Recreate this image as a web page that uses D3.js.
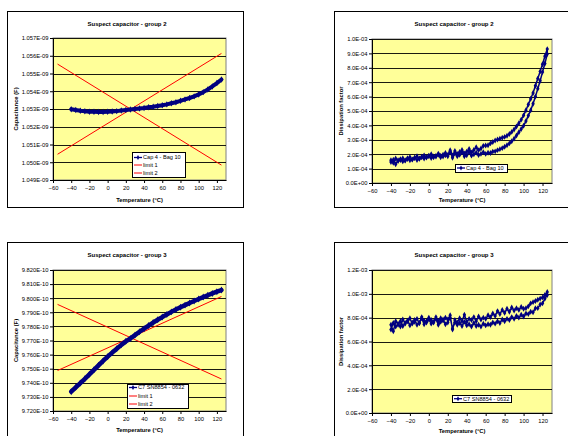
<!DOCTYPE html>
<html>
<head>
<meta charset="utf-8">
<script src="https://cdn.jsdelivr.net/npm/d3@7"></script>
<style>
  body { margin: 0; background: #fff; }
  svg { display: block; font-family: "Liberation Sans", Arial, sans-serif; }
</style>
</head>
<body>
<svg id="page" width="568" height="436"></svg>
<script>
// ---- data ----
const xTicks = [-60, -40, -20, 0, 20, 40, 60, 80, 100, 120];

// capacitance runs, 5 degC steps
const tempsCoarse = [
  -40, -35, -30, -25, -20, -15, -10, -5, 0, 5,
  10, 15, 20, 25, 30, 35, 40, 45, 50, 55,
  60, 65, 70, 75, 80, 85, 90, 95, 100, 105,
  110, 115, 120, 125
];
// group 2, in nF
const capG2 = [
  1.05299, 1.05294, 1.05290, 1.05287, 1.05285, 1.05284, 1.05283, 1.05283, 1.05284, 1.05286,
  1.05288, 1.05291, 1.05294, 1.05297, 1.05300, 1.05303, 1.05306, 1.05310, 1.05313, 1.05317,
  1.05321, 1.05326, 1.05332, 1.05338, 1.05346, 1.05354, 1.05362, 1.05371, 1.05382, 1.05395,
  1.05410, 1.05427, 1.05446, 1.05466
];
// group 3, in units of 1E-10 F
const capG3 = [
  9.7337, 9.7368, 9.7398, 9.7428, 9.7460, 9.7492, 9.7524, 9.7555, 9.7585, 9.7614,
  9.7642, 9.7669, 9.7694, 9.7714, 9.7738, 9.7762, 9.7784, 9.7806, 9.7827, 9.7847,
  9.7866, 9.7885, 9.7903, 9.7920, 9.7936, 9.7951, 9.7966, 9.7980, 9.7994, 9.8008,
  9.8021, 9.8034, 9.8046, 9.8058
];

const limitTemps = [-55, 125];
const limit1G2 = [1.05045, 1.05613];   // nF
const limit2G2 = [1.05553, 1.04984];
const limit1G3 = [9.7487, 9.8012];     // 1E-10 F
const limit2G3 = [9.7956, 9.7427];

// dissipation factor runs, 2.5 degC steps, heating and cooling sweeps
const tempsFine = [
  -40, -37.5, -35, -32.5, -30, -27.5, -25, -22.5, -20, -17.5,
  -15, -12.5, -10, -7.5, -5, -2.5, 0, 2.5, 5, 7.5,
  10, 12.5, 15, 17.5, 20, 22.5, 25, 27.5, 30, 32.5,
  35, 37.5, 40, 42.5, 45, 47.5, 50, 52.5, 55, 57.5,
  60, 62.5, 65, 67.5, 70, 72.5, 75, 77.5, 80, 82.5,
  85, 87.5, 90, 92.5, 95, 97.5, 100, 102.5, 105, 107.5,
  110, 112.5, 115, 117.5, 120, 122.5, 125
];
// units of 1E-04
const dfG2Heat = [
  1.45, 1.62, 1.30, 1.58, 1.66, 1.50, 1.55, 1.72, 1.58, 1.62,
  1.75, 1.60, 1.68, 1.82, 1.70, 1.76, 1.90, 1.74, 1.79, 1.84,
  1.95, 1.78, 1.84, 1.92, 1.85, 2.18, 1.75, 2.05, 1.85, 1.95,
  2.12, 1.86, 1.92, 2.15, 1.90, 2.00, 2.10, 1.94, 2.02, 2.14,
  2.02, 2.10, 2.08, 2.18, 2.20, 2.28, 2.35, 2.42, 2.52, 2.62,
  2.75, 2.90, 3.08, 3.30, 3.52, 3.75, 3.98, 4.30, 4.68, 5.05,
  5.50, 6.00, 6.55, 7.10, 7.70, 8.30, 8.95
];
const dfG2Cool = [
  1.58, 1.40, 1.70, 1.52, 1.60, 1.72, 1.58, 1.66, 1.80, 1.64,
  1.74, 1.86, 1.70, 1.78, 1.92, 1.80, 1.86, 2.00, 1.84, 1.88,
  2.04, 1.90, 1.96, 2.08, 1.95, 2.28, 1.92, 2.22, 2.02, 2.15,
  2.30, 2.05, 2.18, 2.36, 2.12, 2.30, 2.48, 2.28, 2.40, 2.58,
  2.60, 2.62, 2.75, 2.85, 2.95, 3.02, 3.08, 3.14, 3.20, 3.28,
  3.40, 3.55, 3.72, 3.92, 4.15, 4.40, 4.70, 5.05, 5.45, 5.85,
  6.25, 6.75, 7.25, 7.75, 8.25, 8.80, 9.30
];
const dfG3Heat = [
  7.00, 7.55, 7.25, 7.40, 7.70, 7.30, 7.50, 7.75, 7.35, 7.60,
  7.80, 7.40, 7.55, 7.95, 7.45, 7.70, 7.85, 7.50, 7.60, 7.90,
  7.40, 7.65, 7.85, 7.45, 7.60, 8.00, 7.10, 7.60, 7.40, 7.55,
  7.30, 7.65, 7.35, 7.45, 7.25, 7.55, 7.30, 7.40, 7.25, 7.50,
  7.35, 7.45, 7.40, 7.60, 7.50, 7.70, 7.55, 7.85, 7.70, 7.90,
  7.80, 8.05, 7.90, 8.15, 8.00, 8.25, 8.10, 8.35, 8.30, 8.50,
  8.45, 8.80, 8.80, 9.10, 9.20, 9.60, 9.90
];
const dfG3Cool = [
  7.40, 6.85, 7.70, 7.50, 7.25, 7.85, 7.55, 7.70, 7.95, 7.50,
  7.65, 7.90, 7.55, 8.05, 7.75, 7.60, 8.00, 7.80, 7.65, 8.05,
  7.70, 7.95, 7.75, 8.00, 7.85, 8.20, 7.00, 7.80, 7.60, 7.95,
  7.70, 8.25, 7.65, 7.90, 7.80, 8.05, 7.70, 8.10, 7.85, 8.00,
  7.90, 8.20, 8.05, 8.35, 8.15, 8.55, 8.30, 8.65, 8.40, 8.75,
  8.50, 8.85, 8.60, 8.80, 8.65, 8.90, 8.75, 8.80, 8.95, 9.20,
  9.30, 9.40, 9.50, 9.60, 9.70, 9.90, 10.15
];

const yTicksCapG2 = [1.049, 1.050, 1.051, 1.052, 1.053, 1.054, 1.055, 1.056, 1.057]; // nF
const yTicksCapG3 = [9.72, 9.73, 9.74, 9.75, 9.76, 9.77, 9.78, 9.79, 9.80, 9.81, 9.82]; // 1E-10
const yTicksDfG2 = [0, 1, 2, 3, 4, 5, 6, 7, 8, 9, 10]; // 1E-04
const yTicksDfG3 = [0, 2, 4, 6, 8, 10, 12];            // 1E-04

const seriesNameG2 = "Cap 4 - Bag 10";
const seriesNameG3 = "C7 SN8854 - 0632";

// ---- helpers ----
const NAVY = "#000080", RED = "#FF0000";
const svg = d3.select("#page");

function sciFmt(digits) {
  return v => {
    const [m, e] = v.toExponential(digits).split("e");
    const n = +e;
    return m + "E" + (n < 0 ? "-" : "+") + String(Math.abs(n)).padStart(2, "0");
  };
}
const pairs = (ts, vs, k) => ts.map((t, i) => ({ t: t, v: vs[i] * k }));

function drawChart(c) {
  const g = svg.append("g");
  const p = c.plot;

  // outer chart frame
  g.append("rect")
    .attr("x", c.box[0] + 0.5).attr("y", c.box[1] + 0.5)
    .attr("width", c.box[2]).attr("height", c.box[3])
    .attr("fill", "#fff").attr("stroke", "#000").attr("stroke-width", 1);

  const x = d3.scaleLinear().domain([-60, 130]).range([p.l, p.r]);
  const y = d3.scaleLinear()
    .domain([c.yTicks[0], c.yTicks[c.yTicks.length - 1]])
    .range([p.b, p.t]);

  g.append("rect")
    .attr("x", p.l).attr("y", p.t)
    .attr("width", p.r - p.l).attr("height", p.b - p.t)
    .attr("fill", "#FFFF99").attr("stroke", "#808080").attr("stroke-width", 1);

  g.append("g").selectAll("line").data(c.yTicks.slice(1)).join("line")
    .attr("x1", p.l).attr("x2", p.r)
    .attr("y1", d => Math.round(y(d)) + 0.5).attr("y2", d => Math.round(y(d)) + 0.5)
    .attr("stroke", "#000").attr("stroke-width", 0.9);

  const line = d3.line().x(d => x(d.t)).y(d => y(d.v));

  // limit lines
  (c.limits || []).forEach(lim => {
    g.append("path").datum(lim.data).attr("d", line)
      .attr("fill", "none").attr("stroke", lim.color).attr("stroke-width", 1);
  });

  // measured series
  g.append("path").datum(c.series).attr("d", line)
    .attr("fill", "none").attr("stroke", NAVY)
    .attr("stroke-width", c.lineWidth).attr("stroke-linejoin", "round")
    .attr("stroke-linecap", "round");
  const sym = d3.symbol().type(d3.symbolDiamond).size(c.markerSize);
  g.append("g").selectAll("path").data(c.series).join("path")
    .attr("transform", d => `translate(${x(d.t)},${y(d.v)})`)
    .attr("d", sym).attr("fill", NAVY);

  // axes
  const ya = g.append("g").attr("transform", `translate(${p.l},0)`)
    .call(d3.axisLeft(y).tickValues(c.yTicks).tickFormat(c.fmt)
      .tickSize(3).tickSizeOuter(0).tickPadding(1.5));
  const xa = g.append("g").attr("transform", `translate(0,${p.b})`)
    .call(d3.axisBottom(x).tickValues(xTicks)
      .tickSize(3).tickSizeOuter(0).tickPadding(2.5));
  [ya, xa].forEach(a => {
    a.selectAll("text").attr("font-size", 5.8).attr("fill", "#000")
      .attr("font-family", "'Liberation Sans', Arial, sans-serif");
    a.selectAll("line,path").attr("stroke", "#000");
  });

  // titles
  g.append("text").attr("x", c.titleX).attr("y", c.titleY)
    .attr("text-anchor", "middle").attr("dy", "0.35em")
    .attr("font-size", 6).attr("font-weight", "bold").text(c.title);
  g.append("text").attr("x", (p.l + p.r) / 2).attr("y", c.xTitleY)
    .attr("text-anchor", "middle").attr("dy", "0.35em")
    .attr("font-size", 5.8).attr("font-weight", "bold").text("Temperature (°C)");
  g.append("text")
    .attr("transform", `translate(${c.yTitleX},${(p.t + p.b) / 2}) rotate(-90)`)
    .attr("text-anchor", "middle").attr("dy", "0.35em")
    .attr("font-size", 5.8).attr("font-weight", "bold").text(c.yTitle);

  // legend
  const L = c.legend;
  const lg = g.append("g");
  lg.append("rect").attr("x", L.x + 0.5).attr("y", L.y + 0.5)
    .attr("width", L.w).attr("height", L.h)
    .attr("fill", "#fff").attr("stroke", "#000").attr("stroke-width", 1);
  L.rows.forEach((r, i) => {
    const ry = L.rowY[i];
    lg.append("line").attr("x1", L.x + 2).attr("x2", L.x + 10)
      .attr("y1", ry).attr("y2", ry)
      .attr("stroke", r.color).attr("stroke-width", r.marker ? 1.3 : 1);
    if (r.marker) {
      lg.append("path").attr("transform", `translate(${L.x + 6},${ry})`)
        .attr("d", d3.symbol().type(d3.symbolDiamond).size(7)).attr("fill", NAVY);
    }
    lg.append("text").attr("x", L.x + 11).attr("y", ry).attr("dy", "0.35em")
      .attr("font-size", 5.6).text(r.label);
  });
}

// ---- the four charts ----
const dfSweep = (heat, cool) =>
  pairs(tempsFine, heat, 1e-4).concat(pairs(tempsFine, cool, 1e-4).reverse());

drawChart({
  box: [7, 11, 236, 196], plot: { l: 53, t: 38, r: 226, b: 180 },
  title: "Suspect capacitor - group 2", titleX: 127, titleY: 24,
  xTitleY: 200, yTitle: "Capacitance (F)", yTitleX: 16,
  yTicks: yTicksCapG2.map(v => v * 1e-9), fmt: sciFmt(3),
  series: pairs(tempsCoarse, capG2, 1e-9), lineWidth: 4, markerSize: 12,
  limits: [
    { data: pairs(limitTemps, limit1G2, 1e-9), color: RED },
    { data: pairs(limitTemps, limit2G2, 1e-9), color: RED }
  ],
  legend: { x: 132, y: 152, w: 53, h: 25, rowY: [157.5, 165, 173],
    rows: [{ label: seriesNameG2, color: NAVY, marker: true },
           { label: "limit 1", color: RED }, { label: "limit 2", color: RED }] }
});

drawChart({
  box: [334, 11, 250, 196], plot: { l: 372, t: 39, r: 552, b: 183 },
  title: "Suspect capacitor - group 2", titleX: 454, titleY: 24,
  xTitleY: 200, yTitle: "Dissipation factor", yTitleX: 341,
  yTicks: yTicksDfG2.map(v => v * 1e-4), fmt: sciFmt(1),
  series: dfSweep(dfG2Heat, dfG2Cool), lineWidth: 1.5, markerSize: 10,
  legend: { x: 455, y: 164, w: 52, h: 8, rowY: [168],
    rows: [{ label: seriesNameG2, color: NAVY, marker: true }] }
});

drawChart({
  box: [7, 242, 236, 200], plot: { l: 53, t: 270, r: 226, b: 411 },
  title: "Suspect capacitor - group 3", titleX: 127, titleY: 255,
  xTitleY: 430, yTitle: "Capacitance (F)", yTitleX: 16,
  yTicks: yTicksCapG3.map(v => v * 1e-10), fmt: sciFmt(3),
  series: pairs(tempsCoarse, capG3, 1e-10), lineWidth: 4.5, markerSize: 14,
  limits: [
    { data: pairs(limitTemps, limit1G3, 1e-10), color: RED },
    { data: pairs(limitTemps, limit2G3, 1e-10), color: RED }
  ],
  legend: { x: 127, y: 384, w: 61, h: 24, rowY: [387.5, 396, 404],
    rows: [{ label: seriesNameG3, color: NAVY, marker: true },
           { label: "limit 1", color: RED }, { label: "limit 2", color: RED }] }
});

drawChart({
  box: [334, 242, 250, 200], plot: { l: 372, t: 270, r: 552, b: 413 },
  title: "Suspect capacitor - group 3", titleX: 454, titleY: 255,
  xTitleY: 431, yTitle: "Dissipation factor", yTitleX: 341,
  yTicks: yTicksDfG3.map(v => v * 1e-4), fmt: sciFmt(1),
  series: dfSweep(dfG3Heat, dfG3Cool), lineWidth: 1.5, markerSize: 10,
  legend: { x: 452, y: 395, w: 59, h: 7, rowY: [398.7],
    rows: [{ label: seriesNameG3, color: NAVY, marker: true }] }
});
</script>
</body>
</html>
